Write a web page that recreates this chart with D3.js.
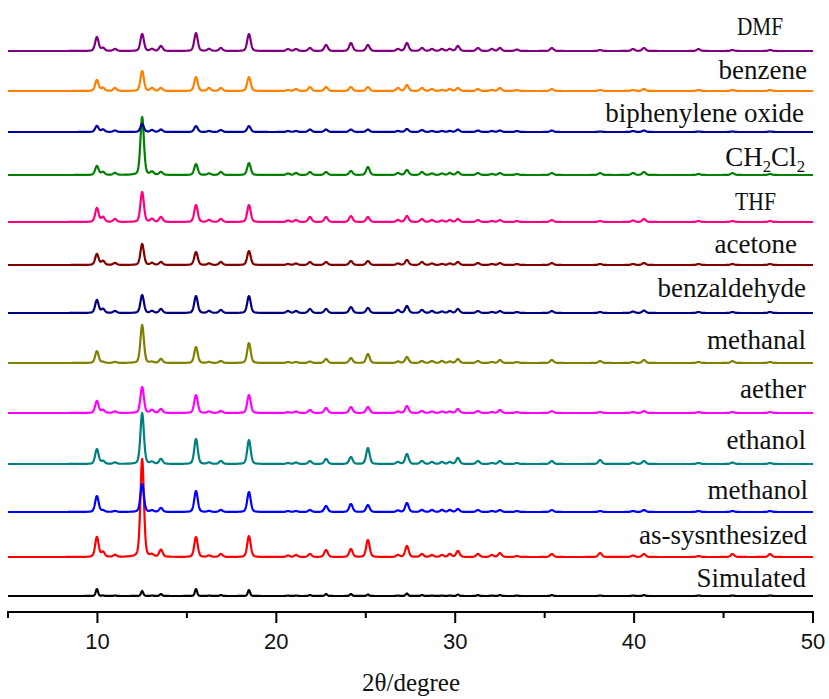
<!DOCTYPE html>
<html>
<head>
<meta charset="utf-8">
<script src="https://cdn.jsdelivr.net/npm/d3@7"></script>
<style>
  html, body { margin: 0; padding: 0; background: #fff; }
  svg { display: block; }
</style>
</head>
<body>
<svg id="chart" width="829" height="699"></svg>
<script>
// Reflection positions (2θ, degrees) shared by all patterns
const peakPositions = [9.97, 10.31, 10.98, 12.5, 13.05, 13.55, 15.51, 16.24, 16.9, 18.47,
  20.65, 21.1, 21.88, 22.78, 24.17, 25.12, 26.8, 27.3, 28.14, 28.7, 29.26, 29.7, 30.15,
  31.27, 32.05, 32.5, 33.45, 35.4, 38.1, 39.94, 40.55, 43.6, 45.5, 47.6];

// Sample names, bottom to top
const sampleNames = ["Simulated", "as-sysnthesized", "methanol", "ethanol", "aether", "methanal",
  "benzaldehyde", "acetone", "THF", "CH2Cl2", "biphenylene oxide", "benzene", "DMF"];

// Vertical stacking offset of each pattern (intensity units)
const stackOffsets = [16, 55, 100, 148, 199, 249, 299, 347, 390, 437, 480, 521, 561];

// Peak intensities per pattern, one value per reflection position
const intSimulated = [7, 0.5, 0.5, 5, 0.5, 2, 7, 0.5, 1, 6, 0.5, 0.5, 1, 2, 2, 1.5, 0.5, 2.5, 1, 0.5, 0.5, 0.5, 1.5, 1, 0.5, 1, 0.5, 1, 0.5, 0.5, 1, 0.5, 0.5, 0.5];
const intAsSynth   = [20, 5, 2, 98, 2, 7, 20, 1.5, 3, 21, 1.5, 2, 3, 7, 8, 17, 2, 11, 3, 2, 2, 3, 6, 3, 2, 4, 1, 3, 4, 1.5, 3, 1, 3, 3];
const intMethanol  = [16, 1.5, 1, 28, 1.5, 4, 21, 1, 2, 20, 1, 1, 2, 6, 8, 7, 1.5, 9, 2, 2, 2, 2, 3, 2, 1, 2, 1, 2, 1, 1, 2, 1, 1, 1];
const intEthanol   = [15, 3, 1.5, 51, 2, 5, 25, 1.5, 3, 24, 1, 1.5, 3, 5, 7, 16, 2, 10, 3, 2, 2, 2, 6, 3, 1, 3, 1, 3, 4, 1.5, 3, 1, 1.5, 1];
const intAether    = [12, 3, 1.5, 26, 3, 4, 18, 1.5, 2, 18, 1, 1.5, 3, 5, 6, 6, 1.5, 7, 2, 1.5, 1.5, 1.5, 4, 2, 1, 3, 1, 2, 1, 1, 2, 1, 1, 1];
const intMethanal  = [12, 1, 1, 38, 1, 4, 16, 1, 2, 20, 1, 1, 1.5, 4, 5, 9, 1.5, 6, 2, 2, 2, 1.5, 4, 2, 1, 3, 1, 3, 2, 1, 3, 1, 2, 1];
const intBenzald   = [13, 4, 2, 18, 2, 4, 17, 2, 3, 17, 2, 2, 4, 4, 6, 5, 3, 7, 3, 2, 1.5, 2, 4, 2, 1, 2, 1, 2, 1, 1.5, 2.5, 1, 1, 1];
const intAcetone   = [11, 4, 2, 21, 2, 3, 13, 1.5, 3, 14, 1, 1.5, 3, 3, 4, 4, 1.5, 5, 3, 1.5, 1, 1.5, 3, 2, 1, 2, 1, 2, 1, 1, 2, 1, 1, 1];
const intTHF       = [14, 5, 3, 30, 3, 5, 17, 2, 3, 17, 1.5, 2, 5, 5, 6, 5, 2, 6, 3, 2, 1.5, 2, 3, 2, 1, 2, 1, 2, 1, 1.5, 3, 1, 1, 1];
const intCH2Cl2    = [9, 3, 2, 58, 3, 3, 11, 1.5, 3, 12, 1.5, 2, 3, 3, 4, 8, 2, 5, 3, 1.5, 1.5, 2, 3, 2, 1, 2, 1, 2, 2, 2, 3, 1, 2, 1];
const intBiphenyl  = [6, 2.5, 1.5, 8, 2, 2.5, 6, 1, 2, 6, 1, 1, 2.5, 2.5, 2.5, 2.5, 1, 3, 2, 1, 1, 1, 2.5, 1.5, 1, 1.5, 1, 1.5, 0.5, 1, 1.5, 0.5, 0.5, 0.5];
const intBenzene   = [11, 3, 3, 20, 3, 3, 14, 3, 3, 14, 1, 2, 4, 4, 4, 4, 3, 6, 3, 2, 1, 2, 3, 2, 1, 3, 1, 2, 1, 1, 2, 1, 1, 1];
const intDMF       = [14, 3, 2, 17, 2, 5, 18, 2, 3, 17, 2, 2, 3, 6, 8, 6, 2, 8, 3, 2, 2, 2, 5, 3, 2, 3, 1.5, 3, 1, 2, 3, 2, 1, 1];

const intensities = [intSimulated, intAsSynth, intMethanol, intEthanol, intAether, intMethanal,
  intBenzald, intAcetone, intTHF, intCH2Cl2, intBiphenyl, intBenzene, intDMF];

// Axis tick values
const majorTicks = [10, 20, 30, 40, 50];
const minorTicks = [5, 15, 25, 35, 45];

// ---- styling ----
const colors = ["#000000", "#ff0000", "#0000ff", "#008080", "#ff00ff", "#808000",
  "#000080", "#800000", "#ff0080", "#008000", "#0000a0", "#ff8000", "#800080"];
// label layout: right edge, gap above baseline, font size, optional fitted width
const labelStyle = [
  {x: 806, dy: 9,  size: 27}, {x: 807, dy: 13, size: 27}, {x: 808, dy: 13, size: 27},
  {x: 806, dy: 15, size: 27}, {x: 806, dy: 15, size: 27}, {x: 806, dy: 14, size: 27},
  {x: 806, dy: 16, size: 27}, {x: 797, dy: 12, size: 27}, {x: 776, dy: 12, size: 26, w: 41},
  {x: 805, dy: 9,  size: 27}, {x: 804, dy: 10, size: 27}, {x: 807, dy: 12, size: 27},
  {x: 783, dy: 16, size: 26, w: 46}
];

const svg = d3.select("#chart");
const x = d3.scaleLinear().domain([5, 50]).range([8, 813]);
const y = d3.scaleLinear().domain([0, 604]).range([612, 8]);

// pseudo-Voigt line profile for rendering each reflection
function profile(t, pos, fwhm) {
  const d = (t - pos) / (fwhm / 2);
  const g = Math.exp(-Math.LN2 * d * d);
  const l = 1 / (1 + d * d);
  return 0.7 * g + 0.3 * l;
}

const grid = d3.range(5, 50.0001, 0.02);
const line = d3.line().x(d => x(d[0])).y(d => y(d[1]));

sampleNames.forEach((name, i) => {
  const fwhm = i === 0 ? 0.15 : 0.23;
  const pts = grid.map(t => {
    let v = 0;
    peakPositions.forEach((p, k) => {
      if (Math.abs(t - p) < 2) v += intensities[i][k] * profile(t, p, fwhm);
    });
    return [t, stackOffsets[i] + v];
  });
  svg.append("path")
    .attr("d", line(pts))
    .attr("fill", "none")
    .attr("stroke", colors[i])
    .attr("stroke-width", 2.2)
    .attr("stroke-linejoin", "round");
});

// labels
sampleNames.forEach((name, i) => {
  const st = labelStyle[i];
  const t = svg.append("text")
    .attr("x", st.x)
    .attr("y", y(stackOffsets[i]) - st.dy)
    .attr("text-anchor", "end")
    .attr("font-family", "'Liberation Serif', 'Times New Roman', serif")
    .attr("font-size", st.size)
    .attr("fill", "#111");
  if (name === "CH2Cl2") {
    t.append("tspan").text("CH");
    t.append("tspan").text("2").attr("font-size", st.size * 0.62).attr("dy", 6);
    t.append("tspan").text("Cl").attr("dy", -6);
    t.append("tspan").text("2").attr("font-size", st.size * 0.62).attr("dy", 6);
  } else {
    t.text(name);
    if (st.w) t.attr("textLength", st.w).attr("lengthAdjust", "spacingAndGlyphs");
  }
});

// bottom axis
const axisG = svg.append("g").attr("transform", "translate(0,612)");
axisG.append("line")
  .attr("x1", x(5)).attr("x2", x(50)).attr("y1", 0).attr("y2", 0)
  .attr("stroke", "#000").attr("stroke-width", 2).attr("stroke-linecap", "square");
axisG.selectAll("line.major").data(majorTicks).join("line")
  .attr("class", "major")
  .attr("x1", d => x(d)).attr("x2", d => x(d)).attr("y1", 0).attr("y2", 11)
  .attr("stroke", "#000").attr("stroke-width", 2);
axisG.selectAll("line.minor").data(minorTicks).join("line")
  .attr("class", "minor")
  .attr("x1", d => x(d)).attr("x2", d => x(d)).attr("y1", 0).attr("y2", 6)
  .attr("stroke", "#000").attr("stroke-width", 2);
axisG.selectAll("text.tl").data(majorTicks).join("text")
  .attr("class", "tl")
  .attr("x", d => x(d)).attr("y", 37)
  .attr("text-anchor", "middle")
  .attr("font-family", "'Liberation Sans', Arial, sans-serif")
  .attr("font-size", 22)
  .attr("fill", "#111")
  .text(d => d);

svg.append("text")
  .attr("x", 411).attr("y", 691)
  .attr("text-anchor", "middle")
  .attr("font-family", "'Liberation Serif', 'Times New Roman', serif")
  .attr("font-size", 25)
  .attr("fill", "#111")
  .text("2θ/degree");
</script>
</body>
</html>
